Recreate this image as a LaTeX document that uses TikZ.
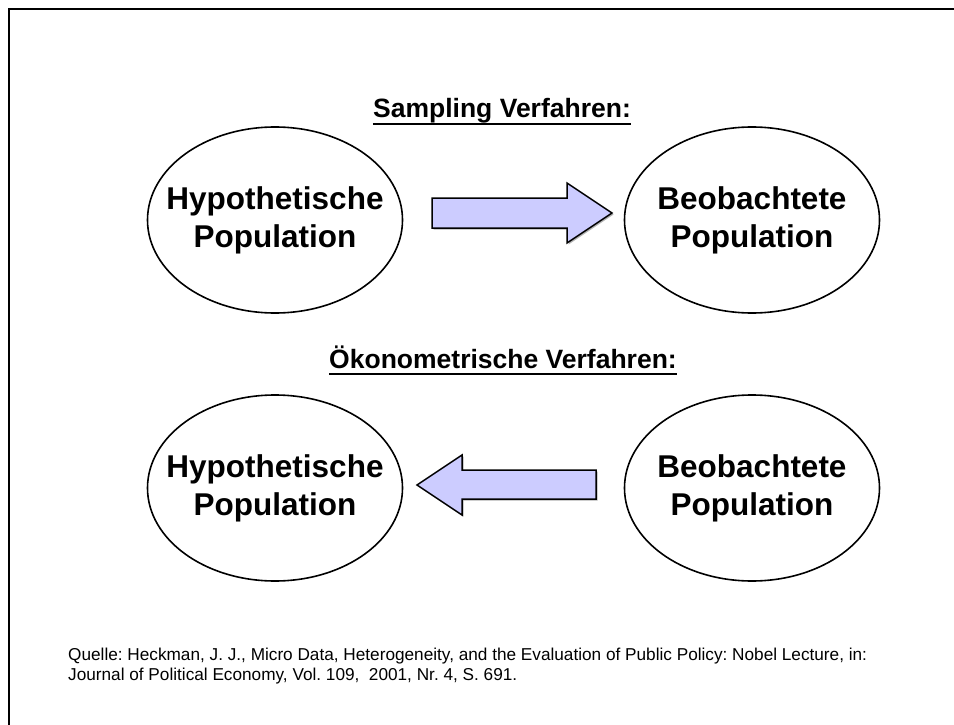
\documentclass[tikz,border=0pt]{standalone}
\usepackage{fontspec}
\setmainfont{Liberation Sans}
\usetikzlibrary{shapes.geometric}
\definecolor{arrowfill}{HTML}{CCCCFF}
\tikzset{
  pop/.style={ellipse, draw=black, line width=1.6pt, minimum width=255pt,
    minimum height=186pt, inner sep=0pt},
  poptext/.style={inner sep=0pt, align=center,
    font=\fontsize{31.5}{38}\selectfont\bfseries},
  heading/.style={inner sep=0pt, font=\fontsize{26.5}{30}\selectfont\bfseries},
  headline/.style={line width=2pt},
  blockarrow/.style={draw=black, line width=1.5pt, fill=arrowfill, line join=miter},
  arrowshadow/.style={fill=black!30, draw=none},
  frameline/.style={line width=2.4pt},
  note/.style={inner sep=0pt, anchor=north west, align=left,
    font=\fontsize{17.2}{19.5}\selectfont}
}
\begin{document}
\frenchspacing
\begin{tikzpicture}[x=1pt,y=-1pt]
  \useasboundingbox (0,0) rectangle (954,725);
  % page frame (top and left edges)
  \draw[frameline] (9,725) -- (9,9) -- (954,9);

  % sampling direction
  \node[heading] (h1) at (502,111) {Sampling Verfahren:};
  \draw[headline] ([yshift=-6pt]h1.base west) -- ([yshift=-6pt]h1.base east);
  \node[pop] (hyp1) at (275,220) {};
  \node[poptext] (hyp1t) at (hyp1.center) {Hypothetische\\Population};
  \node[pop] (beo1) at (752,220) {};
  \node[poptext] (beo1t) at (beo1.center) {Beobachtete\\Population};
  \fill[arrowshadow] (433.5,199.5) -- (568.5,199.5) -- (568.5,184.5) -- (613.5,214.5) -- (568.5,244.5) -- (568.5,229.5) -- (433.5,229.5) -- cycle;
  \draw[blockarrow] (432,198) -- (567,198) -- (567,183) -- (612,213) -- (567,243) -- (567,228) -- (432,228) -- cycle;

  % econometric direction
  \node[heading] (h2) at (503,357) {Ökonometrische Verfahren:};
  \draw[headline] ([yshift=-6pt]h2.base west) -- ([yshift=-6pt]h2.base east);
  \node[pop] (hyp2) at (275,488) {};
  \node[poptext] (hyp2t) at (hyp2.center) {Hypothetische\\Population};
  \node[pop] (beo2) at (752,488) {};
  \node[poptext] (beo2t) at (beo2.center) {Beobachtete\\Population};
  \fill[arrowshadow] (597.5,471.5) -- (463.5,471.5) -- (463.5,456.5) -- (418.5,486.5) -- (463.5,516.5) -- (463.5,500.5) -- (597.5,500.5) -- cycle;
  \draw[blockarrow] (596,470) -- (462,470) -- (462,455) -- (417,485) -- (462,515) -- (462,499) -- (596,499) -- cycle;

  % source
  \node[note] (src) at (68,648) {Quelle: Heckman, J. J., Micro Data, Heterogeneity, and the Evaluation of Public Policy: Nobel Lecture, in:\\Journal of Political Economy, Vol. 109, \ 2001, Nr. 4, S. 691.};
\end{tikzpicture}
\end{document}
